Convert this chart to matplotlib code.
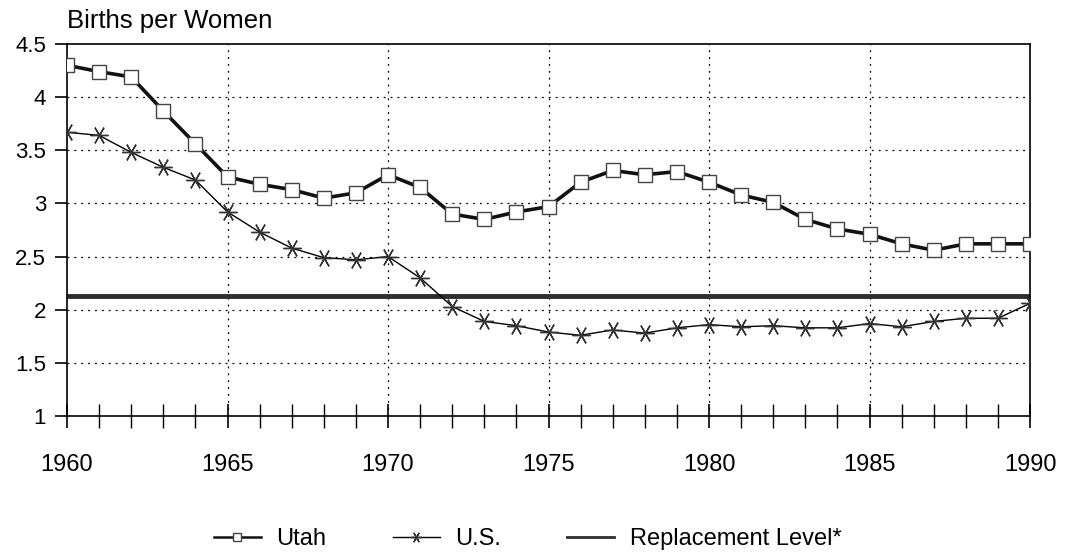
import matplotlib
matplotlib.use("Agg")
from matplotlib import pyplot as plt
import numpy as np

plt.rcParams['font.family'] = ['Liberation Sans', 'DejaVu Sans']

years = list(range(1960, 1991))
utah = [4.30, 4.24, 4.19, 3.87, 3.56, 3.25, 3.18, 3.13, 3.05, 3.10,
        3.27, 3.15, 2.90, 2.85, 2.92, 2.97, 3.20, 3.31, 3.27, 3.30,
        3.20, 3.08, 3.01, 2.85, 2.76, 2.71, 2.62, 2.56, 2.62, 2.62, 2.62]
us = [3.67, 3.64, 3.48, 3.34, 3.22, 2.92, 2.73, 2.58, 2.49, 2.47,
      2.50, 2.30, 2.03, 1.89, 1.85, 1.79, 1.76, 1.81, 1.78, 1.83,
      1.86, 1.84, 1.85, 1.83, 1.83, 1.87, 1.84, 1.89, 1.92, 1.92, 2.06]
replacement = 2.13

y_ticks = [1, 1.5, 2, 2.5, 3, 3.5, 4, 4.5]
y_labels = ['1', '1.5', '2', '2.5', '3', '3.5', '4', '4.5']
x_ticks = [1960, 1965, 1970, 1975, 1980, 1985, 1990]

fig = plt.figure(figsize=(10.9, 5.54), dpi=100)
ax = fig.add_axes([0.0615, 0.249, 0.8835, 0.6716])

ax.plot(years, [replacement] * len(years), color='#2e2e2e', lw=3.5,
        label='Replacement Level*', zorder=2)
ax.plot(years, us, color='black', lw=1.0, marker=(6, 2, 90), markersize=13,
        markeredgewidth=1.0, markeredgecolor='#333333', label='U.S.', zorder=3)
ax.plot(years, utah, color='#111111', lw=2.6, marker='s', markersize=10,
        markerfacecolor='white', markeredgecolor='#444444', markeredgewidth=1.0,
        label='Utah', zorder=4)

ax.set_xlim(1960, 1990)
ax.set_ylim(1, 4.5)
ax.set_yticks(y_ticks)
ax.set_yticklabels(y_labels)
ax.set_xticks(x_ticks)
ax.set_xticks(years, minor=True)

for yv in y_ticks[1:-1]:
    ax.axhline(yv, color='black', lw=0.9, ls=(0, (1.5, 4)), zorder=1)
for xv in x_ticks[1:-1]:
    ax.axvline(xv, color='black', lw=0.9, ls=(0, (1.5, 4)), zorder=1)

ax.tick_params(axis='y', direction='out', length=9, width=1.2, pad=6, labelsize=16)
ax.tick_params(axis='x', which='both', direction='inout', length=17, width=1.2,
               pad=19, labelsize=17)
ax.tick_params(axis='x', which='minor', width=1.0)

for s in ax.spines.values():
    s.set_linewidth(1.2)

fig.text(0.0615, 0.962, 'Births per Women', fontsize=18.5, va='center', ha='left')

h, l = ax.get_legend_handles_labels()
order = [2, 1, 0]
leg = ax.legend([h[i] for i in order], [l[i] for i in order], loc='center',
                bbox_to_anchor=(0.484, 0.027), bbox_transform=fig.transFigure,
                ncol=3, frameon=False, fontsize=17, handlelength=2.0,
                handletextpad=0.65, columnspacing=2.8, markerscale=0.6)
for ln, w in zip(leg.get_lines(), [1.8, 1.0, 2.0]):
    ln.set_linewidth(w)

fig.savefig('out.png', dpi=100)
